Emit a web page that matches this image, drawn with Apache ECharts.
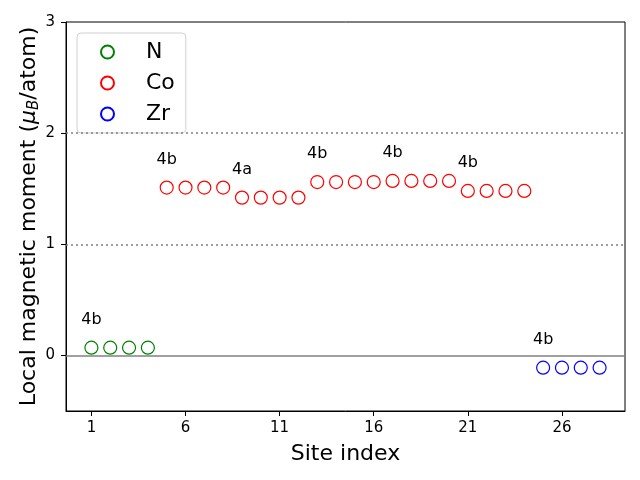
<!DOCTYPE html>
<html>
<head>
<meta charset="utf-8">
<script src="https://cdn.jsdelivr.net/npm/echarts@6/dist/echarts.min.js"></script>
<style>html,body{margin:0;padding:0;background:#fff}#c{width:640px;height:480px}</style>
</head>
<body>
<div id="c"></div>
<script>
const nSites = [1, 2, 3, 4];
const nValues = [0.07, 0.07, 0.07, 0.07];
const coSites = [5,6,7,8,9,10,11,12,13,14,15,16,17,18,19,20,21,22,23,24];
const coValues = [1.51,1.51,1.51,1.51, 1.42,1.42,1.42,1.42, 1.56,1.56,1.56,1.56, 1.57,1.57,1.57,1.57, 1.48,1.48,1.48,1.48];
const zrSites = [25, 26, 27, 28];
const zrValues = [-0.11, -0.11, -0.11, -0.11];
const wyckoffSites = [1, 5, 9, 13, 17, 21, 25];
const wyckoffLabels = ['4b', '4b', '4a', '4b', '4b', '4b', '4b'];
const xTicks = [1, 6, 11, 16, 21, 26];
const yTicks = [0, 1, 2, 3];
const refLines = [1, 2];

const FONT = 'DejaVu Sans';
function build(sites, vals) {
  return sites.map((s, i) => {
    const k = wyckoffSites.indexOf(s);
    const item = { value: [s, vals[i]] };
    if (k >= 0) {
      item.label = { show: true, position: 'top', distance: 13, formatter: wyckoffLabels[k],
        color: '#000', fontSize: 16, fontFamily: FONT };
    }
    return item;
  });
}
function series(name, color, sites, vals) {
  return {
    name, type: 'scatter', symbol: 'circle', symbolSize: 13,
    itemStyle: { color: 'rgba(0,0,0,0)', borderColor: color, borderWidth: 1.2, opacity: 1 },
    emphasis: { disabled: true },
    data: build(sites, vals), z: 5
  };
}
const chart = echarts.init(document.getElementById('c'), null, { renderer: 'canvas' });
chart.setOption({
  animation: false,
  textStyle: { fontFamily: FONT },
  grid: { left: 66, right: 15, top: 22, bottom: 69, outerBoundsMode: 'none', containLabel: false,
    show: true, borderColor: '#000', borderWidth: 1, backgroundColor: 'transparent' },
  legend: {
    left: 77, top: 33, orient: 'vertical', itemWidth: 13, itemHeight: 13, itemGap: 9,
    padding: [8, 11, 8, 23],
    borderColor: '#d0d0d0', borderWidth: 1, borderRadius: 4, backgroundColor: 'rgba(255,255,255,0.8)',
    textStyle: { fontSize: 22, color: '#000', fontFamily: FONT, padding: [0, 0, 0, 27] },
    icon: 'circle',
    data: ['N', 'Co', 'Zr']
  },
  xAxis: {
    type: 'value', min: -0.35, max: 29.35,
    name: 'Site index', nameLocation: 'middle', nameGap: 32, nameMoveOverlap: false,
    nameTextStyle: { fontSize: 22, color: '#000', fontFamily: FONT },
    axisLine: { show: true, onZero: false, lineStyle: { color: '#000', width: 1 } },
    axisTick: { show: true, inside: false, length: 5, customValues: xTicks, lineStyle: { color: '#000' } },
    axisLabel: { customValues: xTicks, fontSize: 15, color: '#000', margin: 10, fontFamily: FONT },
    splitLine: { show: false }
  },
  yAxis: {
    type: 'value', min: -0.5, max: 3,
    name: 'Local magnetic moment ({i|μ}{s|B}/atom)', nameLocation: 'middle', nameGap: 24, nameRotate: 90,
    nameMoveOverlap: false,
    nameTextStyle: { fontSize: 22, color: '#000', fontFamily: FONT,
      rich: {
        i: { fontSize: 22, fontStyle: 'italic', fontFamily: FONT, color: '#000' },
        s: { fontSize: 15, fontStyle: 'italic', fontFamily: FONT, color: '#000', verticalAlign: 'bottom', padding: [10, 0, 0, 0] }
      }
    },
    axisLine: { show: true, onZero: false, lineStyle: { color: '#000', width: 1 } },
    axisTick: { show: true, inside: false, length: 5, customValues: yTicks, lineStyle: { color: '#000' } },
    axisLabel: { customValues: yTicks, fontSize: 15, color: '#000', margin: 11, fontFamily: FONT },
    splitLine: { show: false }
  },
  series: [
    series('N', 'green', nSites, nValues),
    series('Co', 'red', coSites, coValues),
    series('Zr', 'blue', zrSites, zrValues),
    {
      type: 'line', data: [], silent: true, z: 2,
      markLine: {
        silent: true, symbol: 'none', label: { show: false },
        data: [
          { yAxis: 0, lineStyle: { color: '#808080', type: 'solid', width: 1.5 } },
          ...refLines.map(v => ({ yAxis: v, lineStyle: { color: '#808080', type: [2, 3], width: 1.5 } }))
        ]
      }
    }
  ]
});
</script>
</body>
</html>
